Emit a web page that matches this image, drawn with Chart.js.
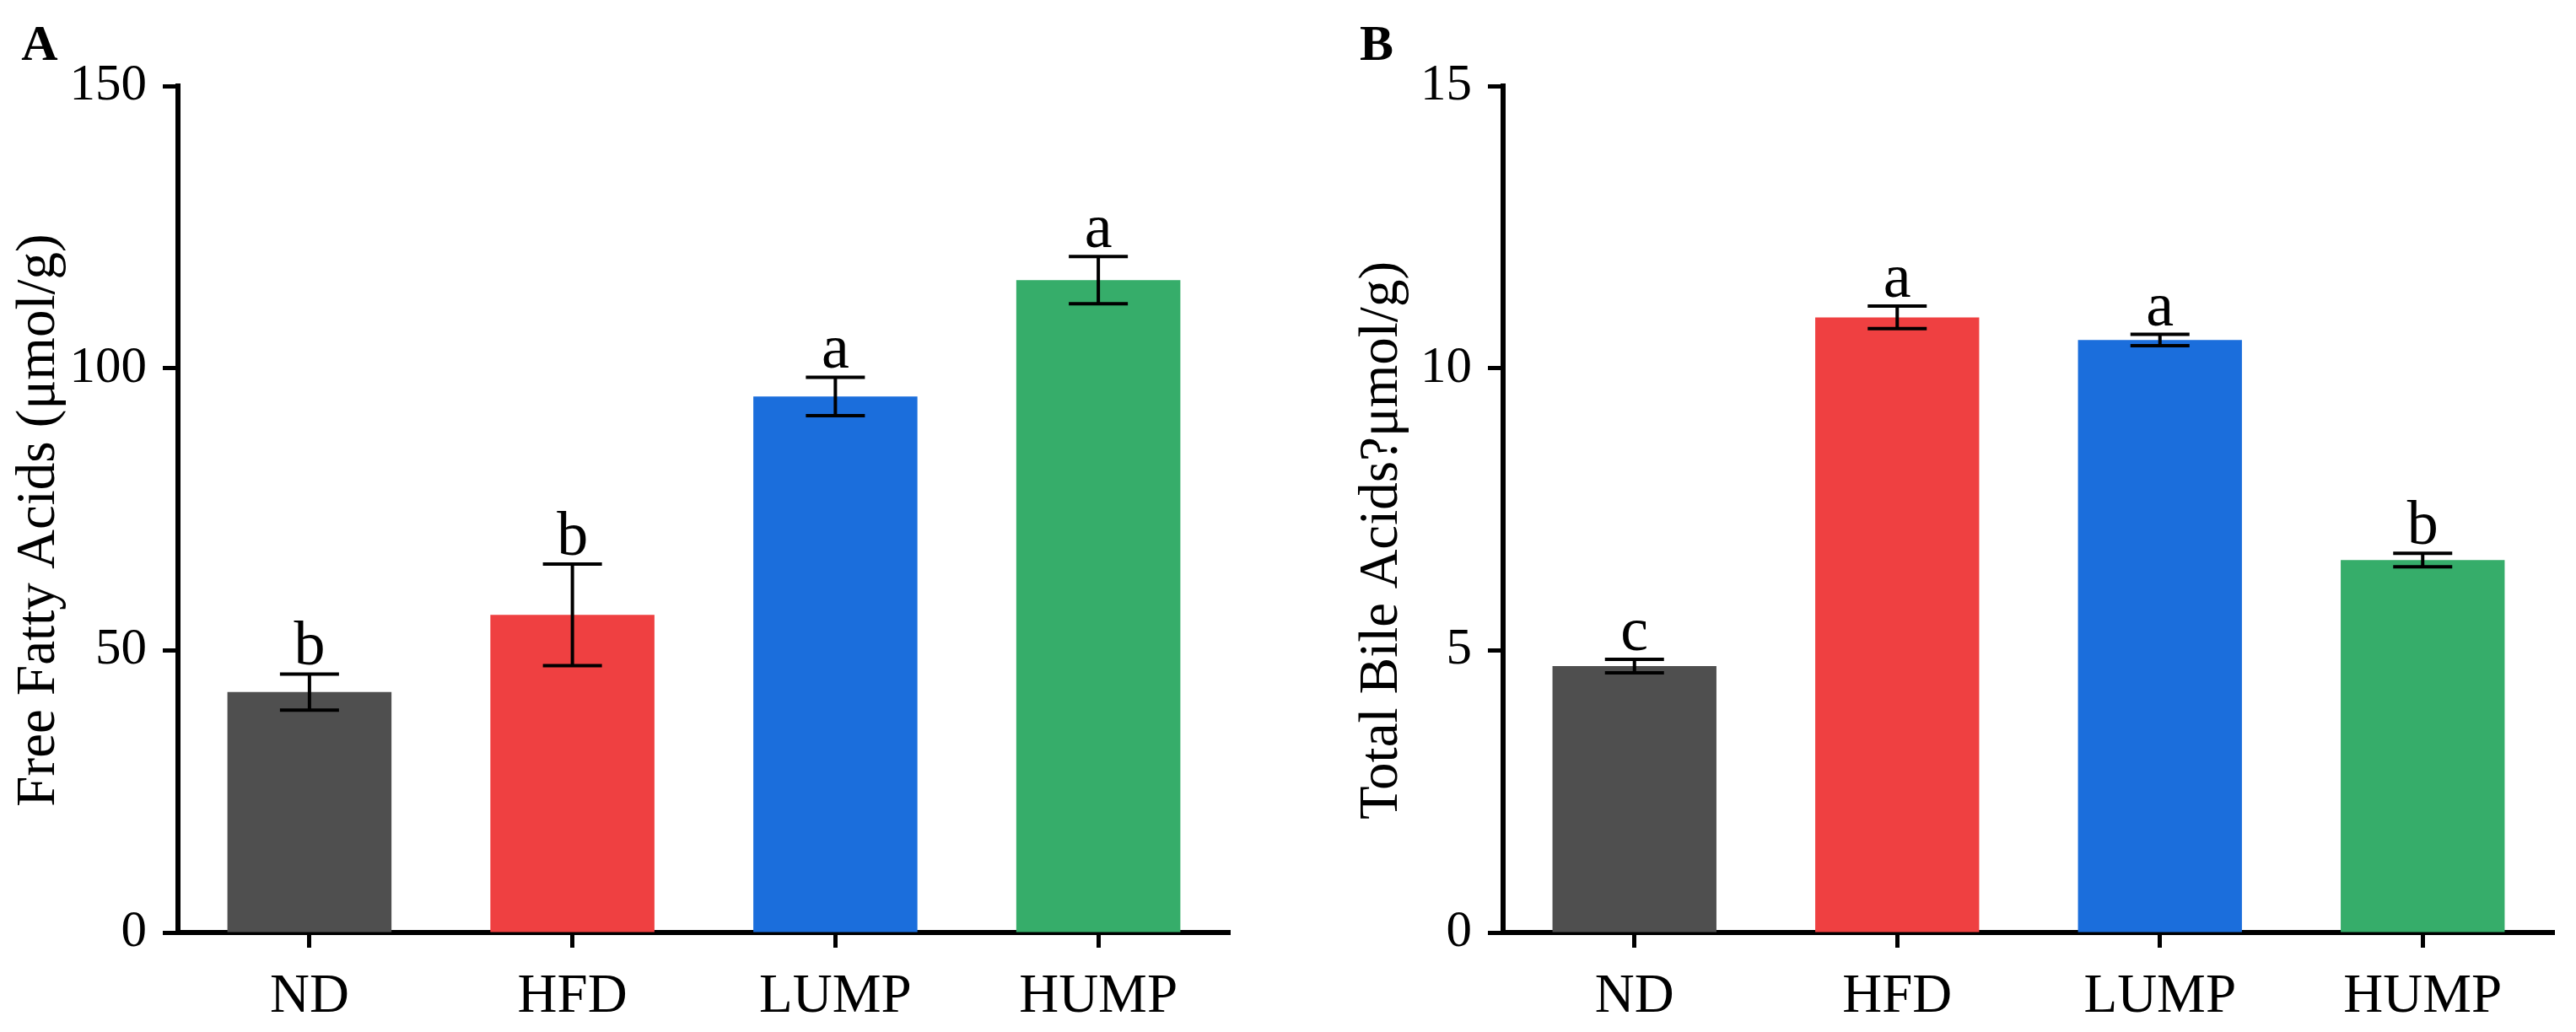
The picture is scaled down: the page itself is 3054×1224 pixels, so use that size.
<!DOCTYPE html>
<html>
<head>
<meta charset="utf-8">
<script src="https://cdn.jsdelivr.net/npm/chart.js@4.4.1/dist/chart.umd.min.js"></script>
<style>
  html, body { margin: 0; padding: 0; background: #fff; }
  #wrap { position: relative; width: 3054px; height: 1224px; }
  .panel { position: absolute; top: 0; width: 1527px; height: 1224px; }
  #panel-a { left: 0; }
  #panel-b { left: 1527px; }
</style>
</head>
<body>
<div id="wrap">
  <div class="panel" id="panel-a"><canvas id="chart-a"></canvas></div>
  <div class="panel" id="panel-b"><canvas id="chart-b"></canvas></div>
</div>
<script>
const groups = ["ND", "HFD", "LUMP", "HUMP"];
const barColors = ["#4f4f4f", "#ef4041", "#1b6edc", "#36ad6a"];

// panel A
const fattyAcids = [42.6, 56.3, 95.0, 115.6];
const fattyAcidsErr = [3.2, 9.0, 3.4, 4.2];
const fattyAcidsLetters = ["b", "b", "a", "a"];
const fattyAcidsTicks = [0, 50, 100, 150];

// panel B
const bileAcids = [4.72, 10.9, 10.5, 6.6];
const bileAcidsErr = [0.12, 0.2, 0.1, 0.12];
const bileAcidsLetters = ["c", "a", "a", "b"];
const bileAcidsTicks = [0, 5, 10, 15];

const serif = '"Liberation Serif", "Times New Roman", serif';

function decorations(panel) {
  return {
    id: "decorations",
    afterDatasetsDraw(chart) {
      const { ctx } = chart;
      const x = chart.scales.x;
      const y = chart.scales.y;
      ctx.save();
      ctx.strokeStyle = "#000";
      ctx.lineWidth = 4;
      ctx.fillStyle = "#000";
      ctx.font = "74px " + serif;
      ctx.textAlign = "center";
      ctx.textBaseline = "alphabetic";
      panel.values.forEach((v, i) => {
        const cx = x.getPixelForValue(i);
        const top = y.getPixelForValue(v + panel.errors[i]);
        const bottom = y.getPixelForValue(v - panel.errors[i]);
        ctx.beginPath();
        ctx.moveTo(cx, top);
        ctx.lineTo(cx, bottom);
        ctx.moveTo(cx - 35, top);
        ctx.lineTo(cx + 35, top);
        ctx.moveTo(cx - 35, bottom);
        ctx.lineTo(cx + 35, bottom);
        ctx.stroke();
        ctx.fillText(panel.letters[i], cx, top - 11);
      });
      ctx.restore();
    },
    afterDraw(chart) {
      const { ctx } = chart;
      ctx.save();
      ctx.fillStyle = "#000";
      ctx.font = "bold 60px " + serif;
      ctx.textAlign = "center";
      ctx.textBaseline = "middle";
      ctx.fillText(panel.tag, panel.tagX, 55);

      ctx.font = "65px " + serif;
      ctx.translate(panel.titleX, panel.titleY);
      ctx.rotate(-Math.PI / 2);
      ctx.fillText(panel.title, 0, 0);
      ctx.restore();
    },
  };
}

function drawPanel(canvasId, panel) {
  return new Chart(document.getElementById(canvasId), {
    type: "bar",
    data: {
      labels: groups,
      datasets: [
        {
          data: panel.values,
          backgroundColor: barColors,
          borderWidth: 0,
          categoryPercentage: 1,
          barPercentage: 0.624,
        },
      ],
    },
    options: {
      responsive: true,
      maintainAspectRatio: false,
      animation: false,
      devicePixelRatio: 1,
      layout: { padding: { top: 102, right: panel.padRight, bottom: 0, left: 0 } },
      plugins: { legend: { display: false }, tooltip: { enabled: false } },
      scales: {
        x: {
          offset: true,
          grid: {
            display: true,
            drawOnChartArea: false,
            drawTicks: true,
            offset: false,
            tickLength: 18,
            tickWidth: 5,
            color: "#000",
          },
          border: { display: true, color: "#000", width: 6 },
          ticks: {
            color: "#000",
            font: { family: serif, size: 65 },
            padding: 20,
            maxRotation: 0,
          },
          afterFit: (scale) => {
            scale.height = 118;
          },
        },
        y: {
          min: 0,
          max: panel.ticks[panel.ticks.length - 1],
          grid: {
            display: true,
            drawOnChartArea: false,
            drawTicks: true,
            tickLength: 18,
            tickWidth: 5,
            color: "#000",
          },
          border: { display: true, color: "#000", width: 6 },
          ticks: {
            color: "#000",
            font: { family: serif, size: 61 },
            padding: 19,
          },
          afterBuildTicks: (scale) => {
            scale.ticks = panel.ticks.map((v) => ({ value: v }));
          },
          afterFit: (scale) => {
            scale.width = panel.axisLeft;
          },
        },
      },
    },
    plugins: [decorations(panel)],
  });
}

drawPanel("chart-a", {
  values: fattyAcids,
  errors: fattyAcidsErr,
  letters: fattyAcidsLetters,
  ticks: fattyAcidsTicks,
  tag: "A",
  tagX: 47,
  title: "Free Fatty Acids (\u03bcmol/g)",
  titleX: 47,
  titleY: 617,
  axisLeft: 211,
  padRight: 69,
});

drawPanel("chart-b", {
  values: bileAcids,
  errors: bileAcidsErr,
  letters: bileAcidsLetters,
  ticks: bileAcidsTicks,
  tag: "B",
  tagX: 105,
  title: "Total Bile Acids?\u03bcmol/g)",
  titleX: 112,
  titleY: 641,
  axisLeft: 255,
  padRight: 26,
});
</script>
</body>
</html>
